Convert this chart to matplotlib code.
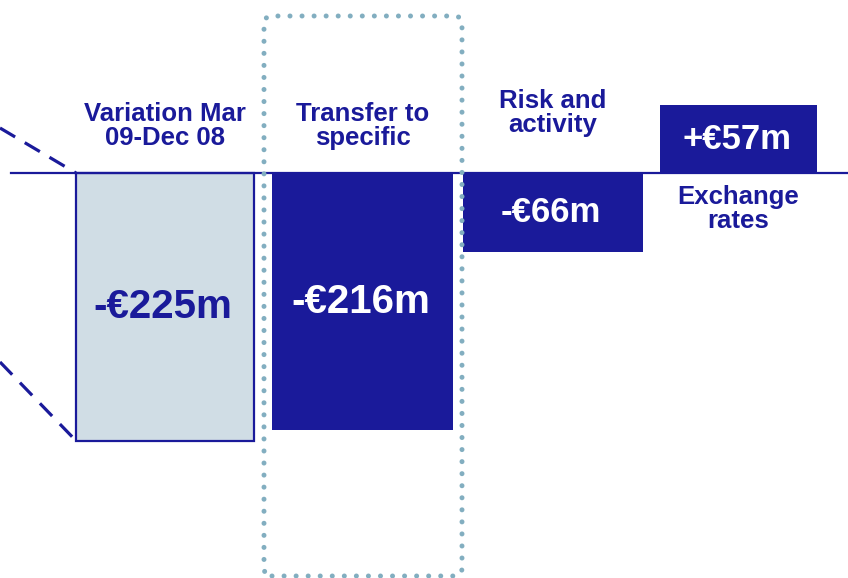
import matplotlib
matplotlib.use("Agg")
import matplotlib.pyplot as plt
from matplotlib.transforms import IdentityTransform
from matplotlib.patches import FancyBboxPatch

# provision movements, in EUR millions
categories = ["Variation Mar\n09-Dec 08", "Transfer to\nspecific", "Risk and\nactivity", "Exchange\nrates"]
values = [-225, -216, -66, 57]
value_labels = ["-€225m", "-€216m", "-€66m", "+€57m"]

NAVY = "#1A1A9A"
LIGHT = "#D0DDE5"
DOTS = "#82AEC0"

W, H = 848, 578
fig = plt.figure(figsize=(W / 100, H / 100), dpi=100)
ax = fig.add_axes([0, 0, 1, 1])

# x runs in pixel-like units, y in EUR millions with the zero line near the top
scale = 1.19
zero_px = 173
ax.set_xlim(0, W)
ax.set_ylim(-(H - zero_px) / scale, zero_px / scale)
ax.axis("off")

lefts = [76, 272, 463, 660]
widths = [178, 181, 180, 157]
faces = [LIGHT, NAVY, NAVY, NAVY]
label_colors = [NAVY, "white", "white", "white"]
label_sizes = [29, 29, 25, 25]
name_offsets = [23, 23, 36, -12]

plt.rcParams["font.family"] = ["Liberation Sans", "DejaVu Sans"]

for i, v in enumerate(values):
    ax.bar(lefts[i], v, width=widths[i], align="edge", color=faces[i],
           edgecolor=NAVY if i == 0 else faces[i], linewidth=1.6 if i == 0 else 0, zorder=2)
    ax.text(lefts[i] + widths[i] / 2 - 2, v / 2, value_labels[i], ha="center", va="center",
            fontsize=label_sizes[i], fontweight="bold", color=label_colors[i], zorder=4)
    off = name_offsets[i]
    ax.annotate(categories[i], (lefts[i] + widths[i] / 2, 0), xytext=(0, off * 0.72),
                textcoords="offset points", ha="center", va="bottom" if off > 0 else "top",
                fontsize=18.5, fontweight="bold", color=NAVY, linespacing=1.0, zorder=4)

# zero line
ax.plot([11, W], [0, 0], color=NAVY, lw=1.6, zorder=3)

# dashed zoom lines leading into the first bar
ax.plot([0, lefts[0]], [(zero_px - 128) / scale, 0], color=NAVY, lw=2.3,
        linestyle=(0, (5.5, 3.5)), zorder=3)
ax.plot([0, lefts[0]], [(zero_px - 362) / scale, values[0]], color=NAVY, lw=2.3,
        linestyle=(0, (5.5, 3.5)), zorder=3)

# dotted highlight frame around the transfer bar (display pixels)
box = FancyBboxPatch((264, H - 576), 198, 560, boxstyle="round,pad=0,rounding_size=8",
                     transform=IdentityTransform(), fill=False, edgecolor=DOTS,
                     linewidth=3.6, linestyle=(0, (0.01, 2.4)), capstyle="round", zorder=5)
fig.patches.append(box)

fig.savefig("out.png", dpi=100, facecolor="white")
